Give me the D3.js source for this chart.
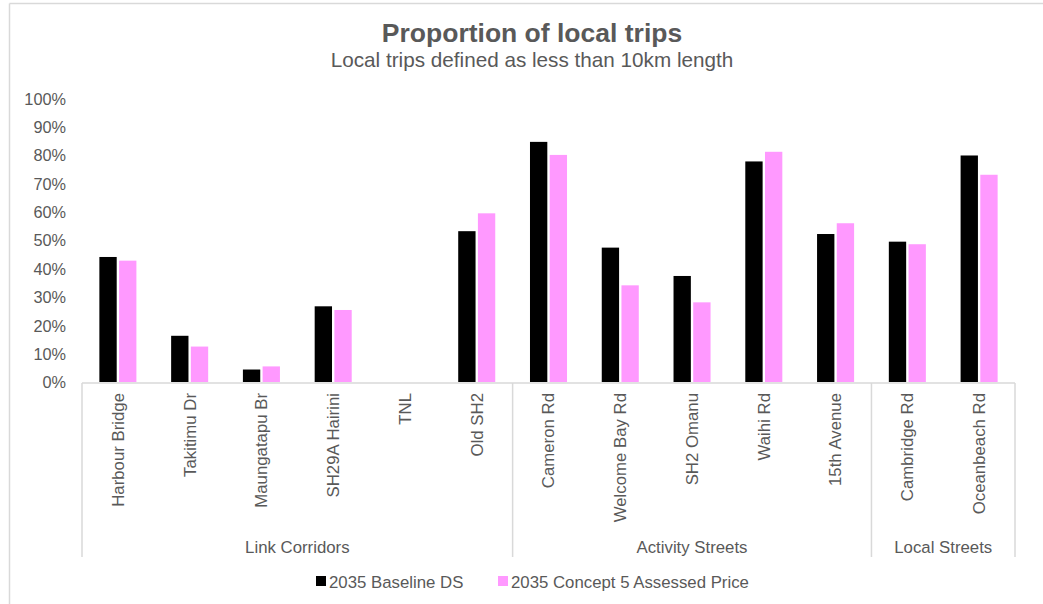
<!DOCTYPE html>
<html>
<head>
<meta charset="utf-8">
<script src="https://cdn.jsdelivr.net/npm/d3@7/dist/d3.min.js"></script>
<style>
  html, body { margin: 0; padding: 0; background: #fff; }
  svg { display: block; font-family: "Liberation Sans", Arial, sans-serif; }
</style>
</head>
<body>
<svg id="chart" width="1043" height="604"></svg>
<script>
// Road segments, grouped by corridor type
const categories = [
  "Harbour Bridge", "Takitimu Dr", "Maungatapu Br", "SH29A Hairini", "TNL", "Old SH2",
  "Cameron Rd", "Welcome Bay Rd", "SH2 Omanu", "Waihi Rd", "15th Avenue",
  "Cambridge Rd", "Oceanbeach Rd"
];
const groupNames = ["Link Corridors", "Activity Streets", "Local Streets"];
const groupSizes = [6, 5, 2];

const seriesNames = ["2035 Baseline DS", "2035 Concept 5 Assessed Price"];
const baselineDS = [0.441, 0.163, 0.044, 0.267, 0, 0.532, 0.847, 0.474, 0.374, 0.778, 0.522, 0.495, 0.799];
const concept5 = [0.428, 0.125, 0.055, 0.254, 0, 0.595, 0.801, 0.341, 0.281, 0.812, 0.560, 0.486, 0.731];

const yTicks = [0, 0.1, 0.2, 0.3, 0.4, 0.5, 0.6, 0.7, 0.8, 0.9, 1.0];
const seriesColors = ["#000000", "#FF99FF"];

const svg = d3.select("#chart");
const textColor = "#595959";
const gridColor = "#D9D9D9";

// Outer chart frame (top and left edges)
svg.append("line").attr("x1", 9.5).attr("x2", 1043).attr("y1", 3.5).attr("y2", 3.5)
  .attr("stroke", gridColor).attr("stroke-width", 1.5);
svg.append("line").attr("x1", 9.5).attr("x2", 9.5).attr("y1", 3.5).attr("y2", 604)
  .attr("stroke", gridColor).attr("stroke-width", 1.5);

// Titles
svg.append("text").attr("x", 532).attr("y", 42).attr("text-anchor", "middle")
  .attr("font-size", 26.5).attr("font-weight", "bold").attr("fill", textColor)
  .text("Proportion of local trips");
svg.append("text").attr("x", 532).attr("y", 67).attr("text-anchor", "middle")
  .attr("font-size", 20.7).attr("fill", textColor)
  .text("Local trips defined as less than 10km length");

// Scales
const x = d3.scaleBand().domain(categories).range([82, 1015])
  .paddingInner(0.484).paddingOuter(0.242);
const xs = d3.scaleBand().domain(seriesNames).range([0, x.bandwidth()]).paddingInner(0.12);
const y = d3.scaleLinear().domain([0, 1]).range([382, 98.5]);

// Y axis labels (no axis line)
const yAxis = d3.axisLeft(y).tickValues(yTicks).tickFormat(d3.format(".0%")).tickSize(0).tickPadding(0);
const yg = svg.append("g").attr("transform", "translate(66,0)").call(yAxis);
yg.select(".domain").remove();
yg.selectAll("text").attr("font-size", 16.3).attr("fill", textColor)
  .attr("font-family", "Liberation Sans, Arial, sans-serif").attr("dy", "0.35em");

// Bars
const seriesData = [baselineDS, concept5];
seriesNames.forEach((s, si) => {
  svg.append("g").selectAll("rect")
    .data(categories.map((c, i) => ({ c, v: seriesData[si][i] })))
    .join("rect")
    .attr("x", d => x(d.c) + xs(s))
    .attr("width", xs.bandwidth())
    .attr("y", d => y(d.v))
    .attr("height", d => y(0) - y(d.v))
    .attr("fill", seriesColors[si]);
});

// Category axis line
svg.append("line").attr("x1", 82).attr("x2", 1015).attr("y1", y(0) + 1).attr("y2", y(0) + 1)
  .attr("stroke", gridColor).attr("stroke-width", 1.5);

// Group boundaries
const step = x.step();
const halfGap = (step - x.bandwidth()) / 2;
let start = 0;
const bounds = [x(categories[0]) - halfGap];
groupSizes.forEach(n => {
  start += n;
  bounds.push(x(categories[start - 1]) + x.bandwidth() + halfGap);
});
svg.append("g").selectAll("line").data(bounds).join("line")
  .attr("x1", d => d).attr("x2", d => d)
  .attr("y1", y(0) + 1).attr("y2", 557)
  .attr("stroke", gridColor).attr("stroke-width", 1.5);

// Category labels (rotated)
svg.append("g").selectAll("text").data(categories).join("text")
  .attr("transform", d => `translate(${x(d) + x.bandwidth() / 2},393) rotate(-90)`)
  .attr("text-anchor", "end").attr("dy", "0.35em")
  .attr("font-size", 16.8).attr("fill", textColor)
  .text(d => d);

// Group labels
svg.append("g").selectAll("text").data(groupNames).join("text")
  .attr("x", (d, i) => (bounds[i] + bounds[i + 1]) / 2)
  .attr("y", 553)
  .attr("text-anchor", "middle")
  .attr("font-size", 16.8).attr("fill", textColor)
  .text(d => d);

// Legend
const legendX = [316, 498];
const lg = svg.append("g").selectAll("g").data(seriesNames).join("g")
  .attr("transform", (d, i) => `translate(${legendX[i]},0)`);
lg.append("rect").attr("x", 0).attr("y", 576).attr("width", 10).attr("height", 10)
  .attr("fill", (d, i) => seriesColors[i]);
lg.append("text").attr("x", 13).attr("y", 587.5)
  .attr("font-size", 16.8).attr("fill", textColor)
  .text(d => d);
</script>
</body>
</html>
